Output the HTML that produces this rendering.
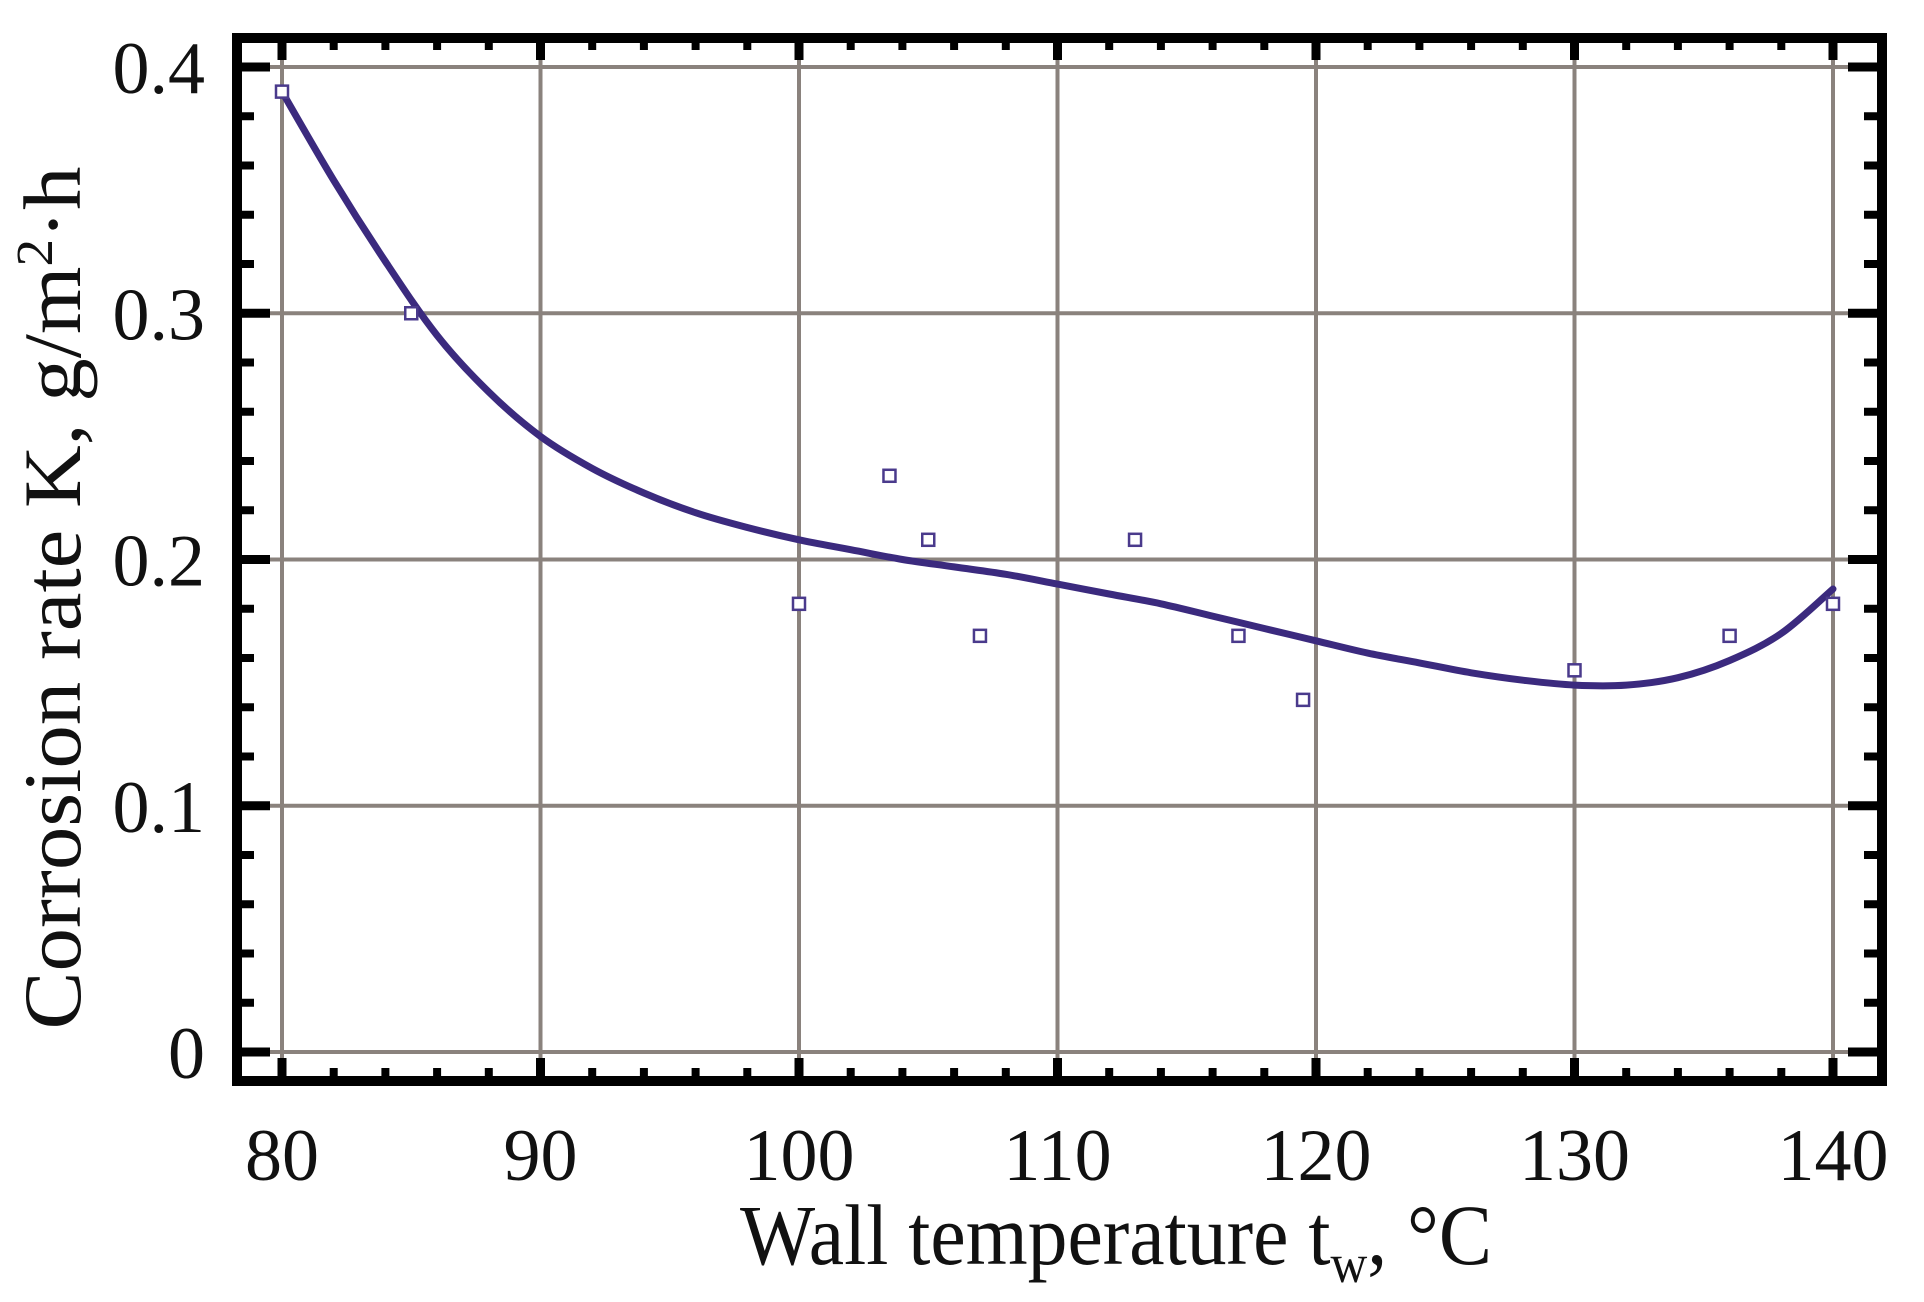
<!DOCTYPE html>
<html><head><meta charset="utf-8"><style>
html,body{margin:0;padding:0;background:#fff;}
svg{display:block;}
text{font-family:"Liberation Serif",serif;fill:#111;}
</style></head><body>
<svg id="chart" width="1924" height="1302" viewBox="0 0 1924 1302">
<g id="grid"></g>
<g id="ticks"></g>
<g id="series"></g>
<rect x="237" y="38" width="1645" height="1043" fill="none" stroke="#000" stroke-width="10"/>
<g id="labels"></g>
<text x="1116" y="1264" font-size="86" text-anchor="middle" textLength="752" lengthAdjust="spacingAndGlyphs">Wall temperature t<tspan font-size="55" dy="18">w</tspan><tspan dy="-18">, °C</tspan></text>
<text transform="translate(80,598) rotate(-90)" font-size="82" text-anchor="middle" textLength="863" lengthAdjust="spacingAndGlyphs">Corrosion rate K, g/m<tspan font-size="52" dy="-28">2</tspan><tspan dy="28">·h</tspan></text>
</svg>
<script>
const xTicks=[80,90,100,110,120,130,140];
const yTicks=[0,0.1,0.2,0.3,0.4];
const yTickLabels=["0","0.1","0.2","0.3","0.4"];
const pointX=[80,85,100,103.5,105,107,113,117,119.5,130,136,140];
const pointY=[0.39,0.30,0.182,0.234,0.208,0.169,0.208,0.169,0.143,0.155,0.169,0.182];
const curveX=[80,82,84,86,88,90,92,94,96,98,100,102,104,106,108,110,112,114,116,118,120,122,124,126,128,130,132,134,136,138,140];
const curveY=[0.39,0.354,0.321,0.291,0.268,0.25,0.237,0.227,0.219,0.213,0.208,0.204,0.2,0.197,0.194,0.19,0.186,0.182,0.177,0.172,0.167,0.162,0.158,0.154,0.151,0.149,0.149,0.152,0.159,0.17,0.188];
const NS="http://www.w3.org/2000/svg";
function sx(v){return 282+(v-80)*25.85;}
function sy(v){return 1052-v*2462.5;}
function mk(tag,attrs,parent){const e=document.createElementNS(NS,tag);for(const k in attrs)e.setAttribute(k,attrs[k]);parent.appendChild(e);return e;}
const grid=document.getElementById('grid'),ticks=document.getElementById('ticks'),series=document.getElementById('series'),labels=document.getElementById('labels');
xTicks.forEach(v=>{
 const l=mk('line',{x1:sx(v),x2:sx(v),y1:40,y2:1080,stroke:'#8a827d','stroke-width':4},grid);
 
 
 const t=mk('text',{x:sx(v),y:1180,'font-size':74,'text-anchor':'middle'},labels);
 t.textContent=v;
 
 
});
yTicks.forEach((v,i)=>{
 const l=mk('line',{x1:238,x2:1880,y1:sy(v),y2:sy(v),stroke:'#8a827d','stroke-width':4},grid);
 
 
 const t=mk('text',{x:205,y:sy(v)+26,'font-size':74,'text-anchor':'end'},labels);
 t.textContent=yTickLabels[i];
 
 
});
for(let v=80;v<=140;v+=2){
 const major=(v%10===0);const len=major?20:10;
 [[1078,1078-len],[40,40+len]].forEach(p=>{
  const l=mk('line',{x1:sx(v),x2:sx(v),y1:p[0],y2:p[1],stroke:'#000','stroke-width':major?9:8},ticks);
  
  
 });
}
for(let k=0;k<=20;k++){
 const v=k*0.02;const major=(k%5===0);const len=major?30:14;
 [[240,240+len],[1878,1878-len]].forEach(p=>{
  const l=mk('line',{x1:p[0],x2:p[1],y1:sy(v),y2:sy(v),stroke:'#000','stroke-width':major?9:8},ticks);
  
  
 });
}
const P=curveX.map((v,i)=>[sx(v),sy(curveY[i])]);
let d='M'+P[0][0].toFixed(1)+' '+P[0][1].toFixed(1);
for(let i=0;i<P.length-1;i++){
 const p0=P[Math.max(i-1,0)],p1=P[i],p2=P[i+1],p3=P[Math.min(i+2,P.length-1)];
 const c1=[p1[0]+(p2[0]-p0[0])/6,p1[1]+(p2[1]-p0[1])/6];
 const c2=[p2[0]-(p3[0]-p1[0])/6,p2[1]-(p3[1]-p1[1])/6];
 d+='C'+c1[0].toFixed(1)+' '+c1[1].toFixed(1)+' '+c2[0].toFixed(1)+' '+c2[1].toFixed(1)+' '+p2[0].toFixed(1)+' '+p2[1].toFixed(1);
}
const path=mk('path',{d:d,fill:'none',stroke:'#3b2a7e','stroke-width':7,'stroke-linejoin':'round','stroke-linecap':'round'},series);


pointX.forEach((v,i)=>{
 const r=mk('rect',{x:sx(v)-6,y:sy(pointY[i])-6,width:12,height:12,fill:'#fff',stroke:'#4a3a8c','stroke-width':2.5},series);
 
 
});
</script>
</body></html>
